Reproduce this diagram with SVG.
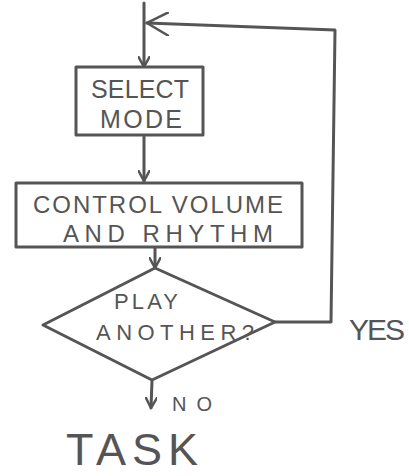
<svg xmlns="http://www.w3.org/2000/svg" width="409" height="476" viewBox="0 0 409 476">
<defs>
<marker id="arr" viewBox="0 0 12 12" refX="11" refY="6" markerWidth="12" markerHeight="12" markerUnits="userSpaceOnUse" orient="auto">
<path d="M0,0 L11,6 L0,12" fill="none" stroke="#555" stroke-width="2.5" stroke-linecap="round"/>
</marker>
<marker id="arrBig" viewBox="0 0 24 24" refX="22" refY="12" markerWidth="24" markerHeight="24" markerUnits="userSpaceOnUse" orient="auto">
<path d="M0,0 L22,12 L0,24" fill="none" stroke="#555" stroke-width="2.5" stroke-linecap="round"/>
</marker>
</defs>
<style>
.shape{fill:#fff;stroke:#555;stroke-width:3;stroke-linejoin:round}
.line{fill:none;stroke:#555;stroke-width:3;stroke-linecap:round;stroke-linejoin:round}
.t{font-family:"Liberation Sans","DejaVu Sans",sans-serif;fill:#555;text-anchor:middle}
</style>
<rect width="409" height="476" fill="#fff"/>
<g id="connectors">
<path class="line" d="M144,3 L144,67" marker-end="url(#arr)"/>
<path class="line" d="M275,322 L331,322 L335,30 L147,23" marker-end="url(#arrBig)"/>
<path class="line" d="M144,137 L144,181" marker-end="url(#arr)"/>
<path class="line" d="M155,248 L155,268" marker-end="url(#arr)"/>
<path class="line" d="M152,381 L151,408" marker-end="url(#arr)"/>
</g>
<g id="select-mode">
<rect class="shape" x="76" y="67" width="127" height="68"/>
<text class="t" x="140" y="98" font-size="25" textLength="98" lengthAdjust="spacing">SELECT</text>
<text class="t" x="141" y="128" font-size="25" textLength="82" lengthAdjust="spacing">MODE</text>
</g>
<g id="control">
<rect class="shape" x="16" y="183" width="286" height="64"/>
<text class="t" x="158" y="213" font-size="24" textLength="250" lengthAdjust="spacing">CONTROL  VOLUME</text>
<text class="t" x="168" y="242" font-size="24" textLength="210" lengthAdjust="spacing">AND  RHYTHM</text>
</g>
<g id="decision">
<polygon class="shape" points="155,268 275,322 152,380 43,325"/>
<text class="t" x="146" y="309" font-size="22" textLength="64" lengthAdjust="spacing">PLAY</text>
<text class="t" x="175" y="340" font-size="22" textLength="158" lengthAdjust="spacing">ANOTHER?</text>
</g>
<g id="labels">
<text class="t" x="377" y="340" font-size="30" font-weight="300" textLength="56" lengthAdjust="spacing">YES</text>
<text class="t" x="192" y="411" font-size="20" textLength="40" lengthAdjust="spacing">NO</text>
</g>
<g id="task">
<text class="t" x="132" y="465" font-size="45" font-weight="300" textLength="132" lengthAdjust="spacing">TASK</text>
</g>
</svg>
